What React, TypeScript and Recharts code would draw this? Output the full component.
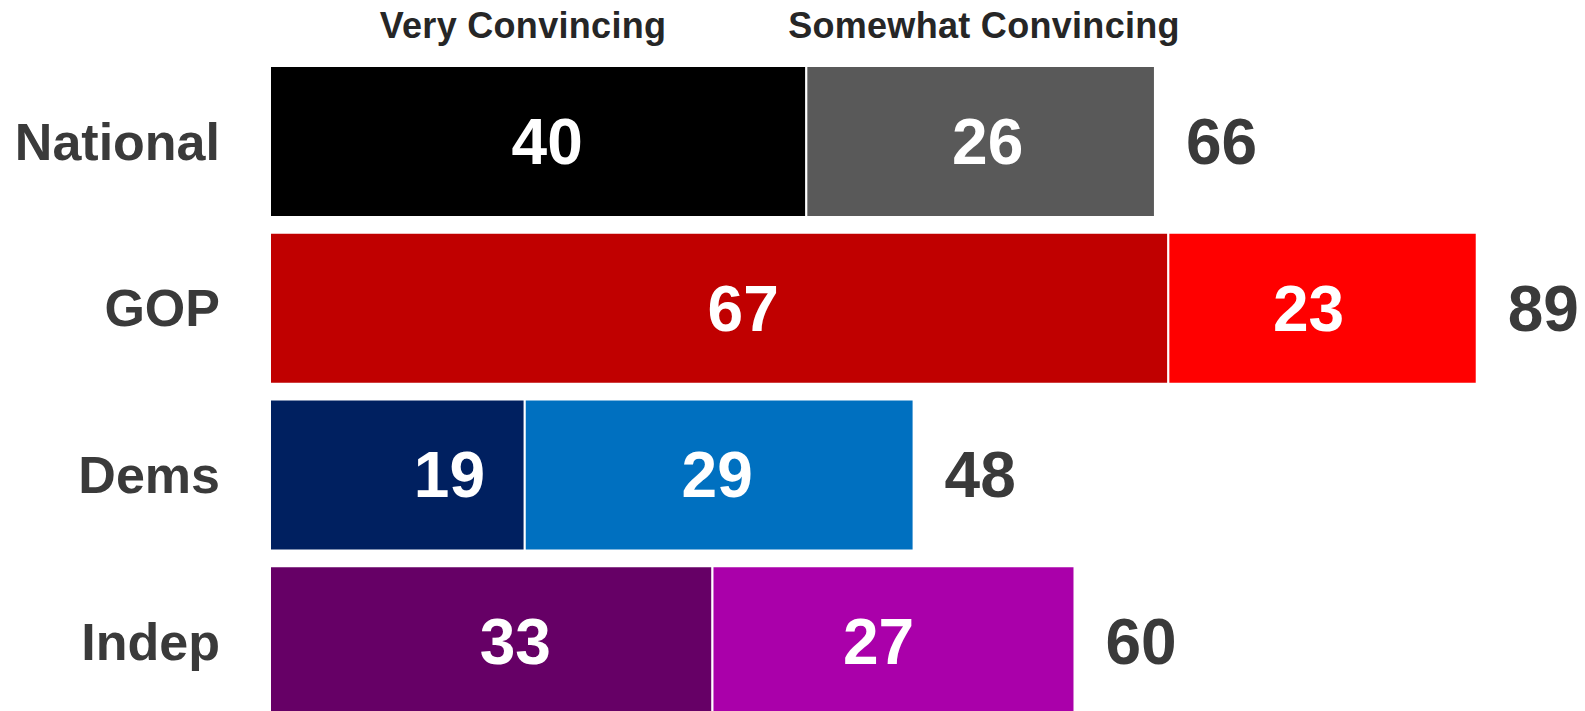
import React from 'react';
import { BarChart, Bar, XAxis, YAxis, Cell } from 'recharts';

// ── data ──────────────────────────────────────
const CATEGORIES = ['National', 'GOP', 'Dems', 'Indep'];
const VERY = [40, 67, 19, 33];
const SOMEWHAT = [26, 23, 29, 27];
const TOTALS = [66, 89, 48, 60];
const SERIES_NAMES = ['Very Convincing', 'Somewhat Convincing'];

// ── style ─────────────────────────────────────
const VERY_COLORS = ['#000000', '#C00000', '#002060', '#660066'];
const SOMEWHAT_COLORS = ['#595959', '#FF0000', '#0070C0', '#AA00AA'];
// the labels in the original slide were nudged by hand, not centred
const VERY_DX = [9, 24, 52, 24];
const SOMEWHAT_DX = [7, -14, -2, -15];

const FONT = '"Liberation Sans", Arial, Helvetica, sans-serif';
const LABEL_GRAY = '#3A3A3A';

const data = CATEGORIES.map((name, i) => ({
  name,
  very: VERY[i],
  somewhat: SOMEWHAT[i],
  total: TOTALS[i],
}));

function segmentShape(dx: number[], withTotal: boolean) {
  return (p: any) => {
    const i = CATEGORIES.indexOf(p.payload?.name);
    const row = data[i];
    const value = withTotal ? row.somewhat : row.very;
    return (
      <g>
        <rect x={p.x} y={p.y} width={p.width} height={p.height} fill={p.fill} stroke="#fff" strokeWidth={2} />
        <text
          x={p.x + p.width / 2 + dx[i]}
          y={p.y + p.height / 2}
          dy="0.35em"
          textAnchor="middle"
          fill="#fff"
          fontSize={64}
          fontWeight={700}
          fontFamily={FONT}
        >
          {value}
        </text>
        {withTotal && (
          <text
            x={p.x + p.width + 31}
            y={p.y + p.height / 2}
            dy="0.35em"
            textAnchor="start"
            fill={LABEL_GRAY}
            fontSize={64}
            fontWeight={700}
            fontFamily={FONT}
          >
            {row.total}
          </text>
        )}
      </g>
    );
  };
}

function CategoryTick({ y, payload }: any) {
  return (
    <text x={220} y={y} dy="0.35em" textAnchor="end" fill={LABEL_GRAY} fontSize={52} fontWeight={700} fontFamily={FONT}>
      {payload.value}
    </text>
  );
}

export default function App() {
  return (
    <div style={{ position: 'absolute', left: 0, top: 0, width: 1585, height: 711, overflow: 'hidden', background: '#fff' }}>
      <svg width={1585} height={60} style={{ position: 'absolute', left: 0, top: 0 }}>
        <text x={523} y={38} textAnchor="middle" fill="#262626" fontSize={36} fontWeight={700} letterSpacing={0.3} fontFamily={FONT}>
          {SERIES_NAMES[0]}
        </text>
        <text x={984} y={38} textAnchor="middle" fill="#262626" fontSize={36} fontWeight={700} letterSpacing={0.3} fontFamily={FONT}>
          {SERIES_NAMES[1]}
        </text>
      </svg>
      <BarChart
        width={1585}
        height={725}
        data={data}
        layout="vertical"
        margin={{ top: 58, right: 1, bottom: 0, left: 0 }}
        barSize={151}
      >
        <XAxis type="number" domain={[0, 98]} hide />
        <YAxis
          type="category"
          dataKey="name"
          width={270}
          axisLine={false}
          tickLine={false}
          tick={<CategoryTick />}
        />
        <Bar dataKey="very" stackId="a" isAnimationActive={false} shape={segmentShape(VERY_DX, false)}>
          {data.map((d, i) => (
            <Cell key={d.name} fill={VERY_COLORS[i]} />
          ))}
        </Bar>
        <Bar dataKey="somewhat" stackId="a" isAnimationActive={false} shape={segmentShape(SOMEWHAT_DX, true)}>
          {data.map((d, i) => (
            <Cell key={d.name} fill={SOMEWHAT_COLORS[i]} />
          ))}
        </Bar>
      </BarChart>
    </div>
  );
}
